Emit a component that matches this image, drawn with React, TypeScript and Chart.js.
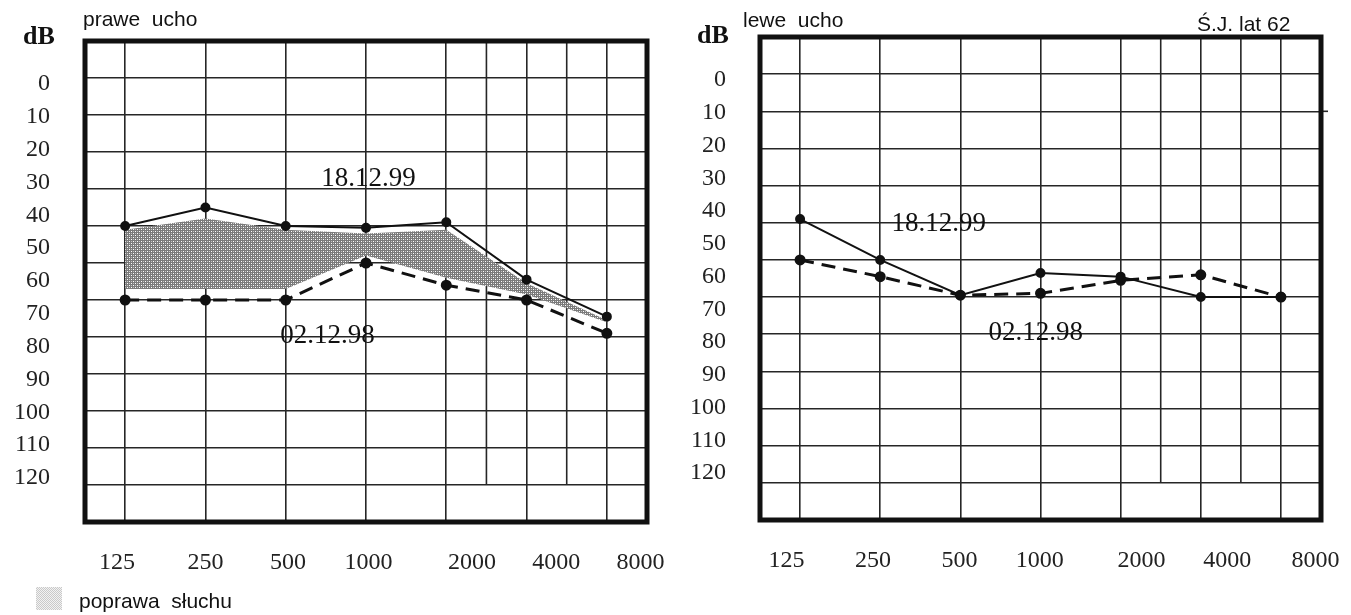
import React, { useEffect, useRef } from "react";
import { Chart, registerables } from "chart.js";

Chart.register(...registerables);

// ---------- data ----------
const frequencyLabels = ["125", "250", "500", "1000", "2000", "4000", "8000"];
const octaves = [0, 1, 2, 3, 4, 5, 6]; // 125 .. 8000 Hz, one step per octave
const halfOctaves = [4.5, 5.5]; // 3000 and 6000 Hz grid lines
const dbTickLabels = [0, 10, 20, 30, 40, 50, 60, 70, 80, 90, 100, 110, 120];
const dbGridLines = [0, 10, 20, 30, 40, 50, 60, 70, 80, 90, 100, 110];

// prawe ucho (right ear)
const rightEar181299 = [40, 35, 40, 40.5, 39, 54.5, 64.5];
const rightEar021298 = [60, 60, 60, 50, 56, 60, 69];
const improvementUpper = [41, 38, 41, 42, 41, 55.5, 65.5];
const improvementLower = [57, 57, 57, 48, 54, 58.5, 66];

// lewe ucho (left ear)
const leftEar181299 = [39, 50, 59.5, 53.5, 54.5, 60, 60];
const leftEar021298 = [50, 54.5, 59.5, 59, 55.5, 54, 60];

// date captions anchored in data units (octave, dB)
const rightEarNotes = [
  { text: "18.12.99", x: 3.03, db: 27.2 },
  { text: "02.12.98", x: 2.52, db: 69.8 },
];
const leftEarNotes = [
  { text: "18.12.99", x: 1.73, db: 40.4 },
  { text: "02.12.98", x: 2.94, db: 69.7 },
];

// ---------- styles ----------
const SERIF = '"Liberation Serif", "Times New Roman", serif';
const SANS = '"Liberation Sans", Arial, sans-serif';
const INK = "#111111";
const GRID = "#262626";
const GRID_W = 1.6;

function makeHatch(ctx: CanvasRenderingContext2D) {
  const c = document.createElement("canvas");
  c.width = 4;
  c.height = 4;
  const g = c.getContext("2d")!;
  g.fillStyle = "#7a7a7a";
  g.fillRect(0, 0, 4, 4);
  g.fillStyle = "#ffffff";
  g.fillRect(1, 1, 1, 1);
  g.fillRect(3, 3, 1, 1);
  g.fillStyle = "#c4c4c4";
  g.fillRect(3, 1, 1, 1);
  g.fillRect(1, 3, 1, 1);
  return ctx.createPattern(c, "repeat")!;
}

const decorPlugin = {
  id: "audiogramDecor",
  beforeDatasetsDraw(chart: any) {
    const { ctx, chartArea } = chart;
    const x = chart.scales.x;
    const y = chart.scales.y;
    ctx.save();
    ctx.strokeStyle = GRID;
    ctx.lineWidth = GRID_W;
    for (const h of halfOctaves) {
      const px = x.getPixelForValue(h);
      ctx.beginPath();
      ctx.moveTo(px, chartArea.top);
      ctx.lineTo(px, y.getPixelForValue(110));
      ctx.stroke();
    }
    ctx.restore();
  },
  afterDraw(chart: any, _args: any, opts: any) {
    const { ctx, chartArea } = chart;
    const x = chart.scales.x;
    const y = chart.scales.y;
    ctx.save();
    if (opts.extend10) {
      ctx.strokeStyle = GRID;
      ctx.lineWidth = GRID_W;
      const py = y.getPixelForValue(10);
      ctx.beginPath();
      ctx.moveTo(chartArea.right, py);
      ctx.lineTo(chartArea.right + 7, py);
      ctx.stroke();
    }
    ctx.strokeStyle = INK;
    ctx.lineWidth = 5;
    ctx.strokeRect(
      chartArea.left,
      chartArea.top,
      chartArea.right - chartArea.left,
      chartArea.bottom - chartArea.top
    );
    ctx.fillStyle = INK;
    ctx.font = `27px ${SERIF}`;
    ctx.textAlign = "center";
    ctx.textBaseline = "middle";
    for (const n of opts.notes || []) {
      ctx.fillText(n.text, x.getPixelForValue(n.x), y.getPixelForValue(n.db));
    }
    ctx.restore();
  },
};

type Panel = {
  width: number;
  height: number;
  area: { left: number; top: number; right: number; bottom: number };
  yLabelMin: number;
  yLabelMax: number;
  yLabelPad: number;
  xLabelPos: number[];
  solid: number[];
  dashed: number[];
  upper?: number[];
  lower?: number[];
  notes: { text: string; x: number; db: number }[];
  extend10?: boolean;
};

function pts(arr: number[]) {
  return octaves.map((o, i) => ({ x: o, y: arr[i] }));
}

function noOverhang(s: any) {
  s.paddingLeft = 0;
  s.paddingRight = 0;
  s.paddingTop = 0;
  s.paddingBottom = 0;
}

function buildConfig(p: Panel, ctx: CanvasRenderingContext2D): any {
  const lineCommon = {
    xAxisID: "x",
    yAxisID: "y",
    borderColor: INK,
    pointBackgroundColor: INK,
    pointBorderColor: INK,
    pointRadius: 4,
    pointStyle: "circle",
    fill: false,
    tension: 0,
  };
  const datasets: any[] = [
    { ...lineCommon, label: "18.12.99", data: pts(p.solid), borderWidth: 2 },
    {
      ...lineCommon,
      label: "02.12.98",
      data: pts(p.dashed),
      borderWidth: 3,
      borderDash: [14, 8],
    },
  ];
  if (p.upper && p.lower) {
    datasets.push({
      label: "poprawa słuchu",
      xAxisID: "x",
      yAxisID: "y",
      data: pts(p.upper),
      borderWidth: 0,
      pointRadius: 0,
      backgroundColor: makeHatch(ctx),
      fill: "+1",
      tension: 0,
    });
    datasets.push({
      label: "_lower",
      xAxisID: "x",
      yAxisID: "y",
      data: pts(p.lower),
      borderWidth: 0,
      pointRadius: 0,
      fill: false,
      tension: 0,
    });
  }
  const tickFont = { family: SERIF, size: 24 };
  return {
    type: "line",
    data: { datasets },
    plugins: [decorPlugin],
    options: {
      responsive: false,
      animation: false,
      events: [],
      layout: {
        padding: {
          top: p.area.top,
          right: p.width - p.area.right,
          bottom: 0,
          left: 0,
        },
      },
      plugins: {
        legend: { display: false },
        tooltip: { enabled: false },
        audiogramDecor: { notes: p.notes, extend10: !!p.extend10 },
      },
      scales: {
        x: {
          type: "linear",
          position: "bottom",
          min: -0.5,
          max: 6.5,
          afterBuildTicks: (s: any) => {
            s.ticks = octaves.map((v) => ({ value: v }));
          },
          ticks: { display: false },
          grid: { color: GRID, lineWidth: GRID_W, drawTicks: false },
          border: { display: false },
          afterFit: (s: any) => {
            s.height = 0;
            noOverhang(s);
          },
        },
        xl: {
          type: "linear",
          position: "bottom",
          min: -0.5,
          max: 6.5,
          afterBuildTicks: (s: any) => {
            s.ticks = p.xLabelPos.map((v) => ({ value: v }));
          },
          ticks: {
            callback: (_v: any, i: number) => frequencyLabels[i],
            font: tickFont,
            color: "#222",
            padding: 26,
            autoSkip: false,
            maxRotation: 0,
            minRotation: 0,
          },
          grid: { display: false, drawTicks: false },
          border: { display: false },
          afterFit: (s: any) => {
            s.height = p.height - p.area.bottom;
            noOverhang(s);
          },
        },
        y: {
          type: "linear",
          position: "left",
          reverse: true,
          min: -10,
          max: 120,
          afterBuildTicks: (s: any) => {
            s.ticks = dbGridLines.map((v) => ({ value: v }));
          },
          ticks: { display: false },
          grid: { color: GRID, lineWidth: GRID_W, drawTicks: false },
          border: { display: false },
          afterFit: (s: any) => {
            s.width = 0;
            noOverhang(s);
          },
        },
        yl: {
          type: "linear",
          position: "left",
          reverse: true,
          min: p.yLabelMin,
          max: p.yLabelMax,
          afterBuildTicks: (s: any) => {
            s.ticks = dbTickLabels.map((v) => ({ value: v }));
          },
          ticks: {
            callback: (v: any) => String(v),
            font: tickFont,
            color: "#222",
            padding: p.yLabelPad,
            autoSkip: false,
          },
          grid: { display: false, drawTicks: false },
          border: { display: false },
          afterFit: (s: any) => {
            s.width = p.area.left;
            noOverhang(s);
          },
        },
      },
    },
  };
}

const rightEarPanel: Panel = {
  width: 680,
  height: 615,
  area: { left: 85, top: 41, right: 647, bottom: 522 },
  yLabelMin: -13.1,
  yLabelMax: 133.4,
  yLabelPad: 35,
  xLabelPos: [-0.1, 1.0, 2.03, 3.03, 4.32, 5.37, 6.42],
  solid: rightEar181299,
  dashed: rightEar021298,
  upper: improvementUpper,
  lower: improvementLower,
  notes: rightEarNotes,
};

const leftEarPanel: Panel = {
  width: 671,
  height: 615,
  area: { left: 80, top: 37, right: 641, bottom: 520 },
  yLabelMin: -13.13,
  yLabelMax: 134.35,
  yLabelPad: 34,
  xLabelPos: [-0.17, 0.91, 1.99, 2.99, 4.26, 5.33, 6.43],
  solid: leftEar181299,
  dashed: leftEar021298,
  notes: leftEarNotes,
  extend10: true,
};

function AudiogramCanvas({ panel, left }: { panel: Panel; left: number }) {
  const ref = useRef<HTMLCanvasElement | null>(null);
  useEffect(() => {
    const canvas = ref.current!;
    const ctx = canvas.getContext("2d")!;
    const chart = new Chart(ctx, buildConfig(panel, ctx));
    return () => chart.destroy();
  }, [panel]);
  return (
    <canvas
      ref={ref}
      width={panel.width}
      height={panel.height}
      style={{
        position: "absolute",
        left,
        top: 0,
        width: panel.width,
        height: panel.height,
        display: "block",
      }}
    />
  );
}

const textBase: React.CSSProperties = {
  position: "absolute",
  lineHeight: 1,
  whiteSpace: "pre",
  color: INK,
  margin: 0,
};

export default function App() {
  return (
    <div
      style={{
        position: "absolute",
        left: 0,
        top: 0,
        width: 1351,
        height: 615,
        background: "#ffffff",
        overflow: "hidden",
      }}
    >
      <AudiogramCanvas panel={rightEarPanel} left={0} />
      <AudiogramCanvas panel={leftEarPanel} left={680} />

      <div style={{ ...textBase, left: 23, top: 21, font: `bold 26px ${SERIF}` }}>dB</div>
      <div style={{ ...textBase, left: 83, top: 7, font: `21px ${SANS}` }}>prawe  ucho</div>

      <div style={{ ...textBase, left: 697, top: 20, font: `bold 26px ${SERIF}` }}>dB</div>
      <div style={{ ...textBase, left: 743, top: 8, font: `21px ${SANS}` }}>lewe  ucho</div>
      <div style={{ ...textBase, left: 1197, top: 12, font: `21px ${SANS}` }}>Ś.J. lat 62</div>

      <div
        style={{
          position: "absolute",
          left: 36,
          top: 587,
          width: 26,
          height: 23,
          background:
            "repeating-conic-gradient(#c9c9c9 0 25%, #f2f2f2 0 50%) 0 0 / 2px 2px",
        }}
      />
      <div style={{ ...textBase, left: 79, top: 589, font: `21px ${SANS}` }}>poprawa  słuchu</div>
    </div>
  );
}
